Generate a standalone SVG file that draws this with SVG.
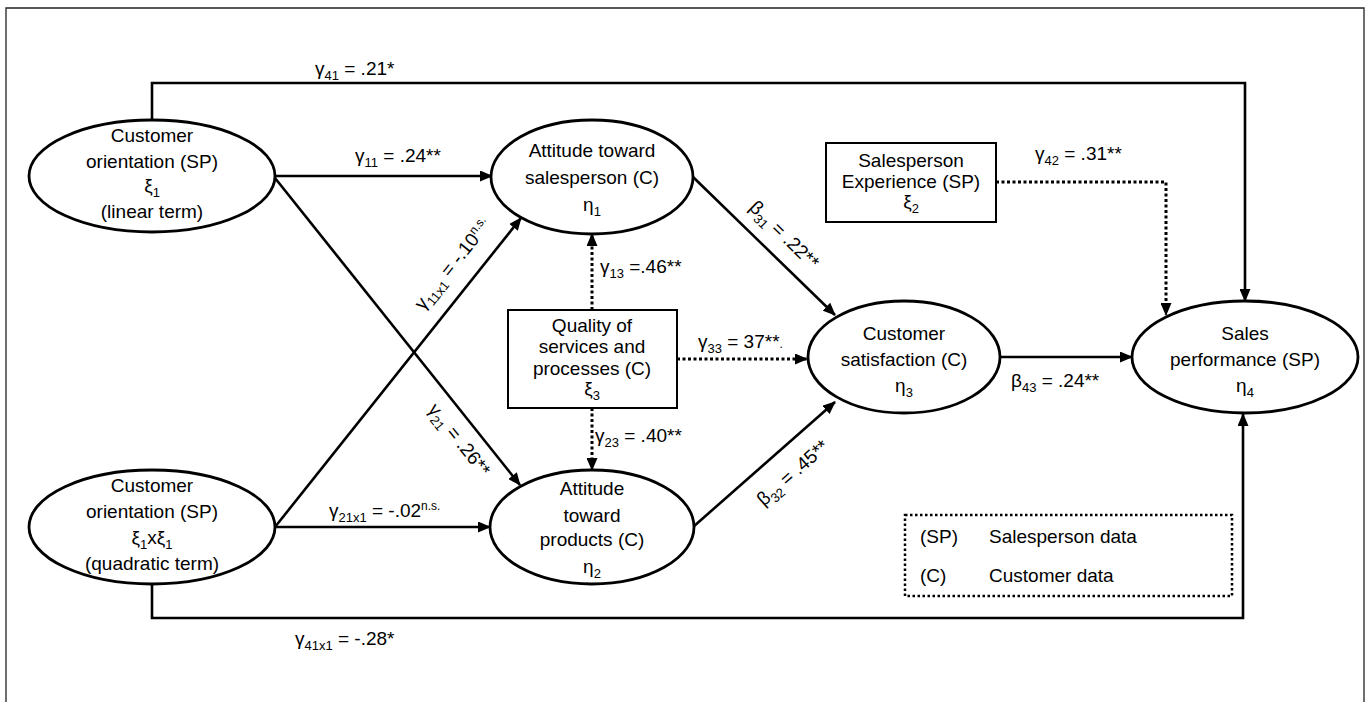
<svg xmlns="http://www.w3.org/2000/svg" width="1371" height="702" viewBox="0 0 1371 702">
<defs>
<marker id="arr" markerUnits="userSpaceOnUse" markerWidth="13" markerHeight="11" viewBox="0 0 13 11" refX="12" refY="5.5" orient="auto">
<path d="M0,0 L13,5.5 L0,11 z" fill="#000"/>
</marker>
<style>
text{font-family:"Liberation Sans",Arial,sans-serif;font-size:19px;fill:#000}
.c{text-anchor:middle}
.node{fill:#fff;stroke:#000;stroke-width:2.8}
.box{fill:#fff;stroke:#000;stroke-width:2}
.solid{fill:none;stroke:#000;stroke-width:2.6}
.dot{fill:none;stroke:#000;stroke-width:3;stroke-dasharray:3 2.5}
.s{font-size:13px}
.sup{font-size:12px}
.frame{stroke:#222;stroke-width:1.3;fill:none}
</style>
</defs>
<rect width="1371" height="702" fill="#fff"/>
<path class="frame" d="M6,702 V8 H1364 V702"/>

<g id="connectors">
<path class="solid" d="M152,120 V83 H1245 V301" marker-end="url(#arr)"/>
<path class="solid" d="M152,584 V618 H1243 V414" marker-end="url(#arr)"/>
<path class="solid" d="M275,176 H492" marker-end="url(#arr)"/>
<path class="solid" d="M275,527 H490" marker-end="url(#arr)"/>
<path class="solid" d="M275,178 L520,485" marker-end="url(#arr)"/>
<path class="solid" d="M275,527 L521,218" marker-end="url(#arr)"/>
<path class="dot" d="M592,310 V234" marker-end="url(#arr)"/>
<path class="dot" d="M592,408 V470" marker-end="url(#arr)"/>
<path class="dot" d="M677,359 H807" marker-end="url(#arr)"/>
<path class="dot" d="M996,182 H1166 V315" marker-end="url(#arr)"/>
<path class="solid" d="M693,177 L835,315" marker-end="url(#arr)"/>
<path class="solid" d="M693,527 L835,402" marker-end="url(#arr)"/>
<path class="solid" d="M1000,357 H1132" marker-end="url(#arr)"/>
</g>

<g id="labels">
<text x="315" y="75">γ<tspan class="s" dy="5">41</tspan><tspan dy="-5"> = .21*</tspan></text>
<text x="355" y="162">γ<tspan class="s" dy="5">11</tspan><tspan dy="-5"> = .24**</tspan></text>
<text x="329" y="517">γ<tspan class="s" dy="5">21x1</tspan><tspan dy="-5"> = -.02</tspan><tspan class="sup" dy="-7">n.s.</tspan></text>
<text x="295" y="645">γ<tspan class="s" dy="5">41x1</tspan><tspan dy="-5"> = -.28*</tspan></text>
<text x="600" y="273">γ<tspan class="s" dy="5">13</tspan><tspan dy="-5"> =.46**</tspan></text>
<text x="595" y="442">γ<tspan class="s" dy="5">23</tspan><tspan dy="-5"> = .40**</tspan></text>
<text x="698" y="348">γ<tspan class="s" dy="5">33</tspan><tspan dy="-5"> = 37**</tspan><tspan class="sup">.</tspan></text>
<text x="1035" y="160">γ<tspan class="s" dy="5">42</tspan><tspan dy="-5"> = .31**</tspan></text>
<text x="1011" y="387">β<tspan class="s" dy="5">43</tspan><tspan dy="-5"> = .24**</tspan></text>
<g transform="translate(453,264) rotate(-51.4)"><text class="c" x="0" y="6">γ<tspan class="s" dy="5">11x1</tspan><tspan dy="-5"> = -.10</tspan><tspan class="sup" dy="-7">n.s.</tspan></text></g>
<g transform="translate(459,440) rotate(51.4)"><text class="c" x="0" y="6">γ<tspan class="s" dy="5">21</tspan><tspan dy="-5"> = .26**</tspan></text></g>
<g transform="translate(784,235) rotate(44.2)"><text class="c" x="0" y="6">β<tspan class="s" dy="5">31</tspan><tspan dy="-5"> = .22**</tspan></text></g>
<g transform="translate(793,473) rotate(-41.4)"><text class="c" x="0" y="6">β<tspan class="s" dy="5">32</tspan><tspan dy="-5"> = .45**</tspan></text></g>
</g>

<g id="xi1">
<ellipse class="node" cx="152" cy="176" rx="123" ry="56"/>
<text class="c" x="152" y="142">Customer</text>
<text class="c" x="152" y="168">orientation (SP)</text>
<text class="c" x="152" y="192">ξ<tspan class="s" dy="5">1</tspan></text>
<text class="c" x="152" y="218">(linear term)</text>
</g>

<g id="xi1xxi1">
<ellipse class="node" cx="152" cy="527" rx="123" ry="57"/>
<text class="c" x="152" y="492">Customer</text>
<text class="c" x="152" y="518">orientation (SP)</text>
<text class="c" x="152" y="544">ξ<tspan class="s" dy="5">1</tspan><tspan dy="-5">xξ</tspan><tspan class="s" dy="5">1</tspan></text>
<text class="c" x="152" y="570">(quadratic term)</text>
</g>

<g id="eta1">
<ellipse class="node" cx="592" cy="177" rx="101" ry="57"/>
<text class="c" x="592" y="157">Attitude toward</text>
<text class="c" x="592" y="184">salesperson (C)</text>
<text class="c" x="592" y="211">η<tspan class="s" dy="5">1</tspan></text>
</g>

<g id="eta2">
<ellipse class="node" cx="592" cy="527" rx="102" ry="57"/>
<text class="c" x="592" y="495">Attitude</text>
<text class="c" x="592" y="522">toward</text>
<text class="c" x="592" y="546">products (C)</text>
<text class="c" x="592" y="573">η<tspan class="s" dy="5">2</tspan></text>
</g>

<g id="xi3">
<rect class="box" x="508" y="310" width="169" height="98"/>
<text class="c" x="592" y="332">Quality of</text>
<text class="c" x="592" y="353">services and</text>
<text class="c" x="592" y="375">processes (C)</text>
<text class="c" x="592" y="395">ξ<tspan class="s" dy="5">3</tspan></text>
</g>

<g id="xi2">
<rect class="box" x="826" y="143" width="170" height="79"/>
<text class="c" x="911" y="167">Salesperson</text>
<text class="c" x="911" y="188">Experience (SP)</text>
<text class="c" x="911" y="208">ξ<tspan class="s" dy="5">2</tspan></text>
</g>

<g id="eta3">
<ellipse class="node" cx="904" cy="357" rx="96" ry="56"/>
<text class="c" x="904" y="340">Customer</text>
<text class="c" x="904" y="366">satisfaction (C)</text>
<text class="c" x="904" y="392">η<tspan class="s" dy="5">3</tspan></text>
</g>

<g id="eta4">
<ellipse class="node" cx="1245" cy="357" rx="113" ry="56"/>
<text class="c" x="1245" y="340">Sales</text>
<text class="c" x="1245" y="366">performance (SP)</text>
<text class="c" x="1245" y="392">η<tspan class="s" dy="5">4</tspan></text>
</g>

<g id="legend">
<rect x="905" y="515" width="327" height="81" fill="none" stroke="#000" stroke-width="2.5" stroke-dasharray="2.5 2.5"/>
<text x="920" y="543">(SP)</text>
<text x="989" y="543">Salesperson data</text>
<text x="920" y="582">(C)</text>
<text x="989" y="582">Customer data</text>
</g>
</svg>
